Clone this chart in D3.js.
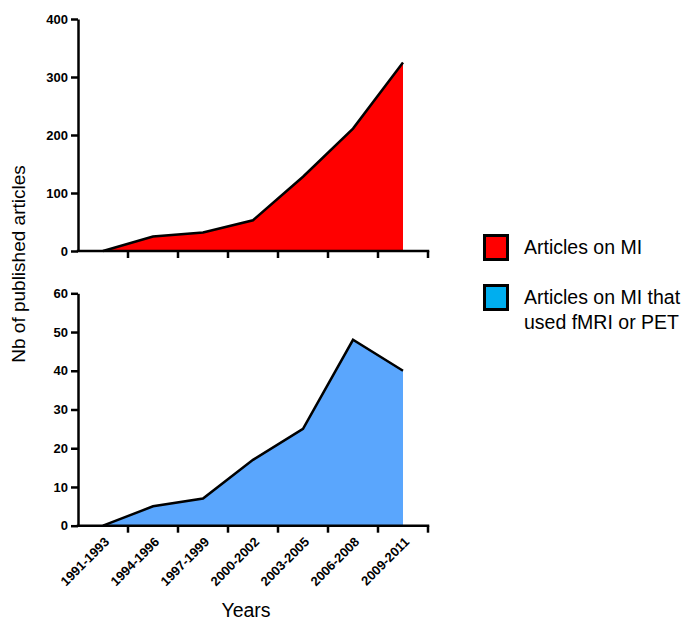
<!DOCTYPE html>
<html>
<head>
<meta charset="utf-8">
<script src="https://cdn.jsdelivr.net/npm/d3@7"></script>
<style>
  html, body { margin: 0; padding: 0; background: #fff; }
  svg { display: block; }
  text { font-family: Arial, "Liberation Sans", sans-serif; }
</style>
</head>
<body>
<svg id="chart" width="683" height="620"></svg>
<script>
const categories = ["1991-1993", "1994-1996", "1997-1999", "2000-2002", "2003-2005", "2006-2008", "2009-2011"];
const articlesMI = [0, 25, 32, 53, 128, 211, 325];
const articlesImaging = [0, 5, 7, 17, 25, 48, 40];
const topTicks = [0, 100, 200, 300, 400];
const bottomTicks = [0, 10, 20, 30, 40, 50, 60];
const legendLabels = [["Articles on MI"], ["Articles on MI that", "used fMRI or PET"]];
const fillColors = ["#ff0000", "#5aa6fd"];
const legendColors = ["#ff0000", "#00aeef"];

const svg = d3.select("#chart");
const x = d3.scaleBand().domain(categories).range([78, 428]).padding(0);

function panel(values, ticks, yTop, yBottom, fill, showX) {
  const y = d3.scaleLinear().domain([0, ticks[ticks.length - 1]]).range([yBottom, yTop]);
  const g = svg.append("g");
  const area = d3.area()
    .x((d, i) => x(categories[i]) + x.bandwidth() / 2)
    .y0(y(0)).y1(d => y(d));
  const line = d3.line()
    .x((d, i) => x(categories[i]) + x.bandwidth() / 2)
    .y(d => y(d));
  g.append("path").datum(values).attr("d", area).attr("fill", fill);
  g.append("path").datum(values).attr("d", line)
    .attr("fill", "none").attr("stroke", "#000").attr("stroke-width", 2.5)
    .attr("stroke-linejoin", "miter");

  // y axis
  const ya = g.append("g").attr("transform", "translate(78,0)")
    .call(d3.axisLeft(y).tickValues(ticks).tickSize(7).tickSizeOuter(0).tickPadding(3));
  ya.select(".domain").attr("stroke-width", 2.5);
  ya.selectAll(".tick line").attr("stroke-width", 2.5);
  ya.selectAll(".tick text").attr("font-size", 13).attr("font-weight", "bold")
    .attr("font-family", "Arial, 'Liberation Sans', sans-serif").attr("fill", "#000");

  // x axis
  const xa = g.append("g");
  xa.append("line").attr("x1", 76.75).attr("x2", x.range()[1] + 1.25)
    .attr("y1", y(0)).attr("y2", y(0)).attr("stroke", "#000").attr("stroke-width", 2.5);
  xa.selectAll("line.tk").data(categories).join("line").attr("class", "tk")
    .attr("x1", d => x(d) + x.bandwidth()).attr("x2", d => x(d) + x.bandwidth())
    .attr("y1", y(0)).attr("y2", y(0) + 7).attr("stroke", "#000").attr("stroke-width", 2.5);
  if (showX) {
    xa.selectAll("text").data(categories).join("text")
      .attr("transform", d => `translate(${x(d) + x.bandwidth() / 2 + 7},${y(0) + 17}) rotate(-45)`)
      .attr("text-anchor", "end").attr("font-size", 13).attr("font-weight", "bold")
      .text(d => d);
  }
  return y;
}

panel(articlesMI, topTicks, 19, 251, fillColors[0], false);
panel(articlesImaging, bottomTicks, 293.3, 525.7, fillColors[1], true);

svg.append("text").attr("transform", "translate(25,264) rotate(-90)")
  .attr("text-anchor", "middle").attr("font-size", 19).text("Nb of published articles");
svg.append("text").attr("x", 246).attr("y", 617)
  .attr("text-anchor", "middle").attr("font-size", 19.5).text("Years");

// legend
const legendY = [234, 284];
legendLabels.forEach((lines, i) => {
  svg.append("rect").attr("x", 484.5).attr("y", legendY[i] + 1.5)
    .attr("width", 23).attr("height", 24)
    .attr("fill", legendColors[i]).attr("stroke", "#000").attr("stroke-width", 3);
  lines.forEach((t, j) => {
    svg.append("text").attr("x", 524).attr("y", legendY[i] + 20 + j * 25)
      .attr("font-size", 19.5).text(t);
  });
});
</script>
</body>
</html>
